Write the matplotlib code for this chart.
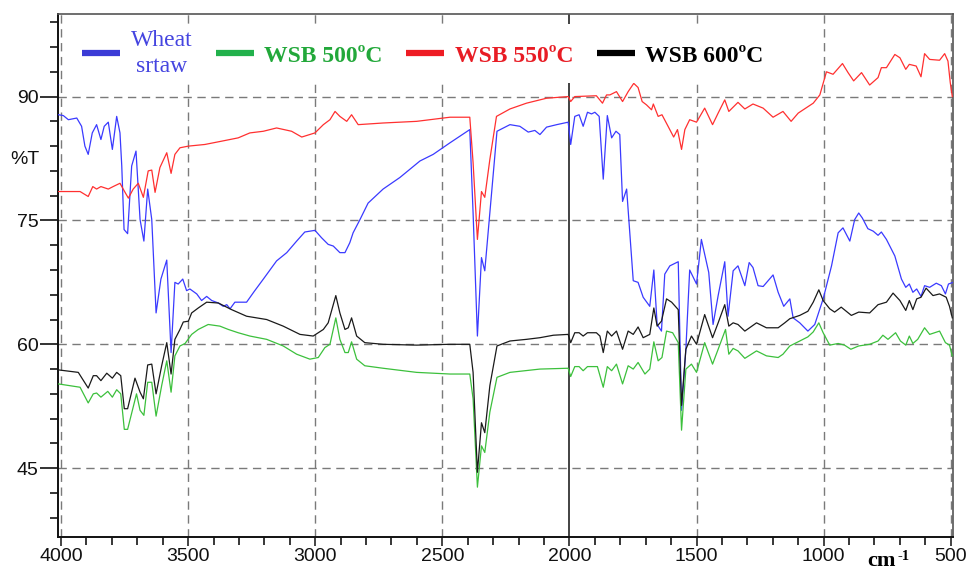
import matplotlib
matplotlib.use("Agg")
import matplotlib.pyplot as plt
from matplotlib.ticker import MultipleLocator
from matplotlib.lines import Line2D

# ---------------- data (wavenumber cm-1, %T) ----------------
wheat_wn = [4010, 3991, 3971, 3938, 3919, 3906, 3893, 3877, 3860, 3843, 3830, 3814, 3798, 3781,
            3768, 3761, 3752, 3738, 3722, 3705, 3689, 3674, 3659, 3643, 3626, 3607, 3584, 3567,
            3552, 3539, 3521, 3506, 3493, 3466, 3447, 3427, 3407, 3381, 3362, 3348, 3335, 3316,
            3270, 3240, 3204, 3152, 3112, 3073, 3041, 3001, 2975, 2949, 2929, 2903, 2883, 2864,
            2851, 2824, 2792, 2733, 2667, 2588, 2536, 2470, 2392, 2379, 2362, 2346, 2333, 2313,
            2285, 2234, 2195, 2162, 2136, 2116, 2090, 2050, 2005, 1995, 1979, 1962, 1946, 1929,
            1913, 1900, 1883, 1867, 1851, 1834, 1817, 1802, 1791, 1775, 1749, 1730, 1710, 1684,
            1668, 1655, 1638, 1625, 1605, 1572, 1559, 1542, 1527, 1500, 1481, 1452, 1435, 1415,
            1389, 1376, 1356, 1337, 1310, 1293, 1278, 1258, 1238, 1199, 1179, 1157, 1133, 1120,
            1094, 1062, 1035, 1002, 969, 943, 924, 897, 878, 862, 848, 826, 805, 786, 773, 753,
            720, 694, 677, 663, 649, 634, 617, 603, 583, 557, 537, 521, 509, 491]
wheat_t = [87.8, 87.7, 87.2, 87.4, 86.4, 84.0, 83.0, 85.6, 86.6, 84.8, 86.4, 86.9, 83.6, 87.6,
           85.6, 81.6, 73.9, 73.4, 81.6, 83.4, 75.1, 72.5, 78.8, 75.1, 63.8, 67.9, 70.2, 59.0,
           67.5, 67.3, 67.9, 66.5, 66.7, 66.1, 65.3, 65.8, 65.3, 65.0, 64.6, 64.8, 64.3, 65.1,
           65.1, 66.4, 67.9, 70.1, 71.1, 72.5, 73.6, 73.8, 72.9, 72.1, 71.9, 71.1, 71.1, 72.3,
           73.5, 75.1, 77.1, 78.8, 80.2, 82.2, 83.0, 84.4, 86.0, 75.9, 61.0, 70.5, 68.9, 75.9,
           85.8, 86.6, 86.4, 85.7, 85.9, 85.4, 86.3, 86.6, 86.9, 84.2, 87.6, 87.8, 86.4, 88.1,
           87.9, 88.1, 87.6, 80.0, 87.7, 85.0, 85.8, 85.4, 77.3, 78.8, 67.7, 67.5, 65.7, 64.6,
           69.0, 62.4, 61.6, 68.5, 69.5, 70.0, 52.0, 59.4, 69.0, 67.3, 72.7, 68.7, 62.4, 65.9,
           70.0, 63.4, 68.9, 69.5, 67.1, 69.9, 69.3, 67.1, 67.0, 68.4, 66.3, 64.6, 65.5, 63.2,
           62.6, 61.6, 62.4, 65.5, 69.5, 73.5, 74.1, 72.5, 75.1, 75.9, 75.3, 74.0, 73.7, 73.2,
           73.6, 72.7, 70.7, 67.9, 66.9, 67.3, 66.3, 66.7, 65.8, 67.1, 66.9, 67.4, 67.1, 66.1,
           67.3, 67.5]

wsb500_wn = [4010, 3925, 3893, 3873, 3860, 3843, 3816, 3798, 3781, 3765, 3751, 3738, 3703, 3689,
             3674, 3659, 3643, 3626, 3604, 3584, 3567, 3552, 3532, 3512, 3486, 3460, 3421, 3375,
             3342, 3303, 3257, 3191, 3126, 3073, 3021, 2988, 2962, 2942, 2919, 2903, 2883, 2870,
             2857, 2837, 2805, 2733, 2601, 2470, 2392, 2379, 2362, 2346, 2333, 2313, 2285, 2234,
             2116, 2005, 1995, 1979, 1962, 1946, 1929, 1890, 1867, 1851, 1834, 1815, 1791, 1769,
             1749, 1730, 1703, 1684, 1668, 1651, 1636, 1618, 1594, 1572, 1559, 1542, 1520, 1500,
             1468, 1437, 1415, 1386, 1373, 1356, 1337, 1310, 1264, 1225, 1179, 1160, 1133, 1094,
             1062, 1041, 1019, 1002, 976, 943, 918, 893, 862, 819, 786, 767, 747, 717, 698, 677,
             663, 649, 630, 603, 583, 544, 521, 505, 494]
wsb500_t = [55.2, 54.8, 52.9, 54.0, 54.1, 53.6, 54.3, 53.6, 54.5, 54.0, 49.7, 49.7, 54.0, 52.0,
            51.4, 55.4, 55.4, 51.3, 55.0, 58.0, 54.2, 58.6, 59.8, 60.1, 61.2, 61.8, 62.4, 62.2,
            61.8, 61.4, 61.0, 60.6, 59.8, 58.8, 58.2, 58.4, 59.6, 60.0, 63.2, 60.6, 59.0, 59.0,
            60.3, 58.2, 57.4, 57.1, 56.6, 56.4, 56.4, 53.4, 42.7, 47.7, 46.9, 51.8, 56.0, 56.6,
            57.0, 57.1, 56.1, 57.3, 57.3, 56.8, 57.3, 57.3, 54.8, 57.3, 56.8, 57.6, 55.2, 57.4,
            57.0, 57.8, 56.4, 57.0, 60.3, 58.0, 58.4, 61.6, 61.4, 60.2, 49.6, 57.0, 57.6, 56.6,
            60.2, 57.6, 59.4, 61.8, 58.8, 59.5, 59.2, 58.3, 59.2, 58.6, 58.4, 58.8, 59.8, 60.4,
            60.9, 61.5, 62.6, 61.4, 59.9, 60.1, 59.9, 59.4, 59.8, 60.0, 60.4, 61.1, 60.6, 61.4,
            60.4, 59.9, 61.0, 60.1, 60.6, 62.0, 61.2, 61.6, 60.2, 59.9, 58.6]

wsb550_wn = [4010, 3925, 3893, 3875, 3860, 3843, 3814, 3795, 3768, 3748, 3735, 3716, 3696, 3676,
             3657, 3643, 3630, 3611, 3584, 3567, 3552, 3532, 3499, 3434, 3368, 3303, 3257, 3204,
             3152, 3093, 3053, 3001, 2968, 2942, 2922, 2903, 2876, 2857, 2831, 2733, 2601, 2470,
             2392, 2379, 2362, 2346, 2333, 2313, 2287, 2234, 2169, 2090, 2005, 1995, 1979, 1894,
             1870, 1854, 1841, 1815, 1791, 1769, 1747, 1730, 1714, 1697, 1677, 1670, 1651, 1636,
             1612, 1590, 1575, 1559, 1546, 1527, 1500, 1468, 1437, 1415, 1389, 1373, 1337, 1310,
             1278, 1238, 1199, 1160, 1128, 1100, 1041, 1015, 989, 963, 926, 904, 882, 851, 819,
             786, 773, 753, 720, 700, 677, 663, 636, 617, 603, 583, 544, 524, 511, 502, 494]
wsb550_t = [78.5, 78.5, 77.9, 79.1, 78.8, 79.1, 78.8, 79.1, 79.5, 78.4, 77.7, 78.8, 79.5, 77.8,
            81.0, 81.1, 78.4, 81.4, 83.2, 80.7, 83.0, 83.8, 84.0, 84.2, 84.6, 85.0, 85.6, 85.8,
            86.2, 85.8, 85.1, 85.6, 86.6, 87.2, 88.2, 87.6, 87.0, 87.8, 86.6, 86.8, 87.0, 87.5,
            87.5, 82.0, 72.7, 78.5, 77.8, 82.4, 87.6, 88.5, 89.2, 89.8, 90.0, 89.4, 90.0, 90.1,
            89.2, 90.2, 90.2, 90.6, 89.4, 90.6, 91.6, 91.1, 89.4, 89.0, 88.4, 89.1, 87.6, 87.8,
            86.4, 85.1, 86.0, 83.6, 86.0, 87.2, 86.9, 88.6, 86.6, 88.0, 89.6, 88.2, 89.3, 88.5,
            89.1, 88.6, 87.5, 88.2, 87.0, 88.0, 89.2, 90.2, 93.0, 92.7, 94.0, 92.9, 91.9, 92.9,
            91.4, 92.3, 93.5, 93.5, 95.1, 94.7, 93.3, 93.9, 93.7, 92.4, 95.2, 94.5, 94.4, 95.2,
            94.3, 91.7, 90.0]

wsb600_wn = [4010, 3932, 3893, 3873, 3860, 3843, 3820, 3798, 3781, 3765, 3751, 3738, 3709, 3689,
             3676, 3659, 3643, 3626, 3604, 3584, 3567, 3552, 3532, 3519, 3499, 3486, 3460, 3427,
             3381, 3329, 3270, 3191, 3126, 3060, 3008, 2968, 2949, 2919, 2903, 2883, 2870, 2857,
             2837, 2805, 2733, 2601, 2470, 2392, 2379, 2362, 2346, 2333, 2313, 2285, 2234, 2169,
             2116, 2063, 2005, 1995, 1979, 1962, 1946, 1929, 1894, 1880, 1867, 1851, 1834, 1815,
             1791, 1769, 1749, 1730, 1710, 1684, 1668, 1655, 1638, 1618, 1598, 1572, 1559, 1542,
             1520, 1500, 1468, 1437, 1415, 1389, 1373, 1356, 1337, 1310, 1264, 1225, 1179, 1153,
             1133, 1094, 1062, 1041, 1019, 1002, 976, 957, 931, 891, 862, 819, 786, 753, 727, 700,
             677, 663, 649, 634, 617, 597, 570, 544, 518, 505, 494]
wsb600_t = [56.9, 56.6, 54.7, 56.2, 56.2, 55.6, 56.5, 55.9, 56.6, 56.2, 52.2, 52.2, 55.9, 54.2,
            53.4, 57.5, 57.6, 54.0, 57.4, 60.2, 56.4, 60.6, 61.8, 62.7, 62.8, 63.8, 64.4, 65.1,
            65.0, 64.2, 63.4, 63.0, 62.2, 61.2, 61.0, 61.8, 62.6, 65.9, 63.8, 61.8, 62.0, 63.2,
            61.0, 60.2, 60.0, 59.9, 60.0, 60.0, 56.6, 44.5, 50.5, 49.3, 55.0, 59.8, 60.4, 60.6,
            60.8, 61.1, 61.2, 60.2, 61.4, 61.4, 61.0, 61.4, 61.4, 61.0, 59.0, 61.6, 61.0, 61.6,
            59.4, 61.6, 61.2, 62.1, 60.8, 61.2, 64.4, 62.2, 62.8, 65.5, 65.1, 64.2, 52.6, 59.4,
            61.0, 60.0, 63.6, 60.8, 62.6, 64.8, 62.2, 62.6, 62.4, 61.6, 62.6, 62.0, 62.0, 62.6,
            63.1, 63.5, 64.0, 65.1, 66.6, 65.3, 64.3, 63.9, 64.5, 63.5, 63.9, 63.8, 64.8, 65.1,
            66.2, 65.3, 64.1, 65.3, 64.2, 65.5, 65.7, 66.8, 65.9, 66.1, 65.7, 64.6, 63.2]

series_labels = ["Wheat\nsrtaw", "WSB 500\u00baC", "WSB 550\u00baC", "WSB 600\u00baC"]
x_ticks = [4000, 3500, 3000, 2500, 2000, 1500, 1000, 500]
y_ticks = [45, 60, 75, 90]

# ---------------- styling ----------------
plt.rcParams["font.family"] = ["Liberation Sans", "DejaVu Sans"]
line_colors = ["#3a3aff", "#3cc03c", "#ff3030", "#1a1a1a"]
handle_colors = ["#3b3bd6", "#22b14c", "#ee1c24", "#000000"]
text_colors = ["#4545e0", "#22a83a", "#e81c24", "#000000"]

W, H = 968, 569
fig = plt.figure(figsize=(W / 100, H / 100), dpi=100)
L, R, T, B = 57.7, 953.3, 14.0, 536.7
ax = fig.add_axes([L / W, 1 - B / H, (R - L) / W, (B - T) / H])

ax.set_xlim(4013, 490)
ax.set_ylim(36.7, 100)

# grid
grid_kw = dict(color="#7a7a7a", lw=1.0, ls=(0, (6, 4)), zorder=1)
for xv in x_ticks:
    if xv == 2000:
        ax.axvline(xv, color="#222222", lw=1.2, zorder=1)
    else:
        ax.axvline(xv, **grid_kw)
for yv in y_ticks:
    ax.axhline(yv, **grid_kw)

# data
series = [(wheat_wn, wheat_t), (wsb500_wn, wsb500_t), (wsb550_wn, wsb550_t), (wsb600_wn, wsb600_t)]
for (xs, ys), c in zip(series, line_colors):
    ax.plot(xs, ys, color=c, lw=0.9, zorder=3)

# ticks
ax.set_xticks(x_ticks)
ax.xaxis.set_minor_locator(MultipleLocator(100))
ax.set_yticks(y_ticks)
ax.yaxis.set_minor_locator(MultipleLocator(3))
ax.tick_params(axis="x", which="major", direction="out", length=6.5, width=1.1,
               labelsize=14, pad=1.5, colors="#111111")
ax.tick_params(axis="x", which="minor", direction="out", length=5.5, width=1.1)
ax.tick_params(axis="y", which="major", direction="out", length=13, width=1.2,
               labelsize=14, pad=1, colors="#111111")
ax.tick_params(axis="y", which="minor", direction="out", length=6, width=1.1)

for s in ["left", "bottom"]:
    ax.spines[s].set_color("#111111")
    ax.spines[s].set_linewidth(1.4)
for s in ["top", "right"]:
    ax.spines[s].set_color("#555555")
    ax.spines[s].set_linewidth(1.2)

# legend
handles = [Line2D([], [], color=c, lw=4.5, solid_capstyle="butt") for c in handle_colors]
leg = ax.legend(handles, series_labels, loc="upper left", bbox_to_anchor=(0.021, 0.98),
                ncol=4, frameon=True, fancybox=False, framealpha=1.0, edgecolor="none",
                facecolor="white", borderpad=0.25, borderaxespad=0, handlelength=1.6,
                handletextpad=0.45, columnspacing=1.0, labelspacing=0.2,
                prop={"family": "Liberation Serif", "size": 17})
leg.set_zorder(5)
for i, t in enumerate(leg.get_texts()):
    t.set_color(text_colors[i])
    if i > 0:
        t.set_fontweight("bold")
    else:
        t.set_multialignment("center")
        t.set_linespacing(1.3)

# axis labels
fig.text(10 / W, 1 - 159 / H, "%T", fontsize=14, ha="left", va="center", color="#111111")
fig.text(867 / W, 1 - 565.5 / H, "cm", fontsize=16, fontweight="bold",
         family="Liberation Serif", ha="left", va="baseline")
fig.text(897 / W, 1 - 560 / H, "-1", fontsize=10.5, fontweight="bold",
         family="Liberation Serif", ha="left", va="baseline")

fig.savefig("out.png", dpi=100)
